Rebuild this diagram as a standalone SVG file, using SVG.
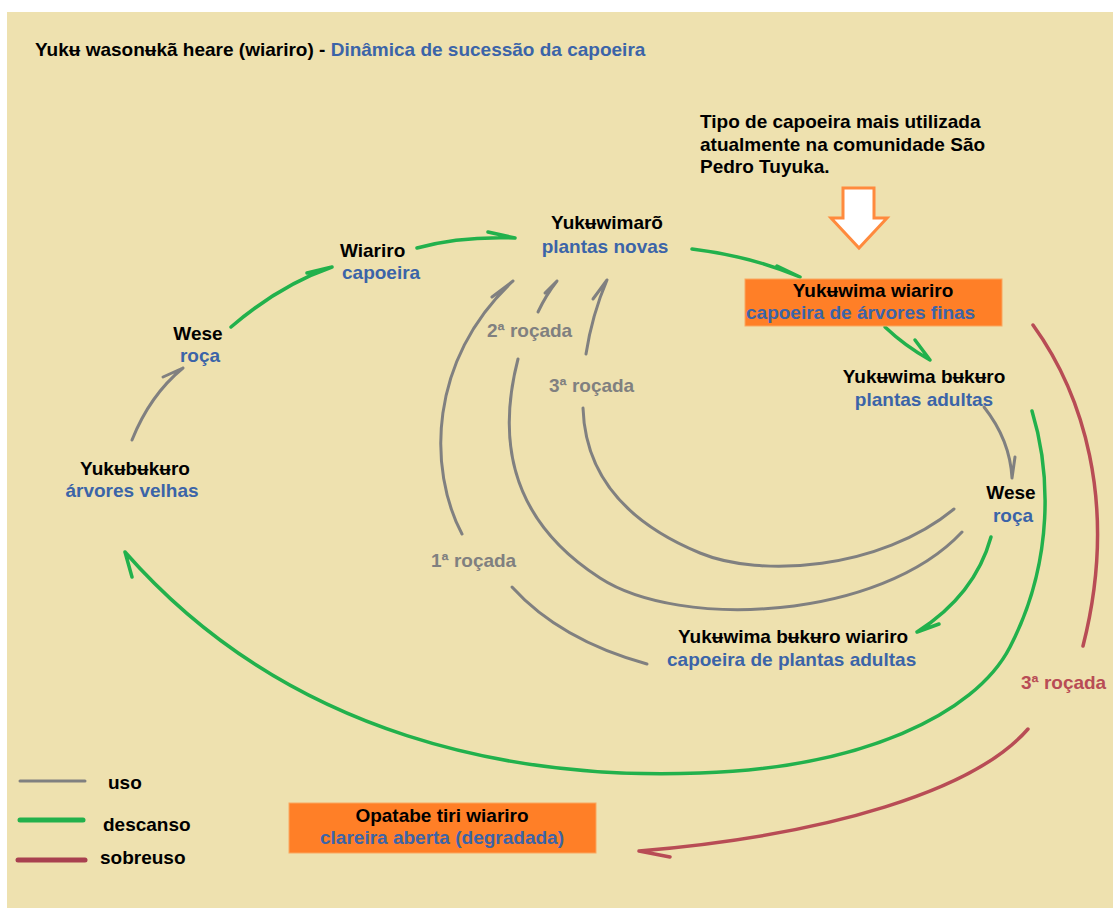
<svg xmlns="http://www.w3.org/2000/svg" width="1113" height="912" viewBox="0 0 1113 912">
<style>
text{font-family:"Liberation Sans",Arial,"DejaVu Sans",sans-serif;font-weight:bold;font-size:19px}
.k{fill:#000}
.b{fill:#3B64A8}
.g{fill:#808080}
.r{fill:#B84C55}
.m{text-anchor:middle}
.gr{fill:none;stroke:#808080;stroke-width:3;stroke-linecap:round}
.gn{fill:none;stroke:#22B14C;stroke-width:3.5;stroke-linecap:round}
.rd{fill:none;stroke:#B84C55;stroke-width:3.5;stroke-linecap:round}
.box{fill:#FF7F27;stroke:#F9A860;stroke-width:1}
</style>
<rect x="0" y="0" width="1113" height="912" fill="#FFFFFF"/>
<rect x="7" y="12" width="1106" height="896" fill="#EEE1AF"/>

<g id="title">
<text x="35" y="56"><tspan class="k">Yukʉ wasonʉkã heare (wiariro) - </tspan><tspan class="b">Dinâmica de sucessão da capoeira</tspan></text>
</g>

<g id="note">
<text class="k" x="700" y="128">Tipo de capoeira mais utilizada</text>
<text class="k" x="700" y="150.5">atualmente na comunidade São</text>
<text class="k" x="700" y="173">Pedro Tuyuka.</text>
<polygon points="843,188 874,188 874,218 887,218 859,248 831,218 843,218" fill="#FFFFFF" stroke="#FF8A3D" stroke-width="3" stroke-linejoin="miter"/>
</g>

<g id="connectors">
<!-- green: descanso -->
<path class="gn" d="M231,327 Q280,285 332,267 M307,273 L332,267"/>
<path class="gn" d="M417,248 Q460,236 515,238 M488,232 L515,238"/>
<path class="gn" d="M692,249 Q750,256 800,277 M777,266 L800,277"/>
<path class="gn" d="M885,327 Q905,346 930,360 M915,340 L930,360"/>
<path class="gn" d="M991,537 Q975,595 917,632 M939,624 L917,632"/>
<path class="gn" d="M1032,411 C1050,470 1055,560 1010,647 C975,715 860,768 700,773 C520,780 290,740 125,552 M132,577 L125,552"/>
<!-- red: sobreuso -->
<path class="rd" d="M1033,325 C1080,390 1120,500 1083,646"/>
<path class="rd" d="M1028,729 C975,790 830,835 639,851 M670,857 L639,851"/>
<!-- gray: uso -->
<path class="gr" d="M132,440 Q150,395 183,368 M163,377 L183,368"/>
<path class="gr" d="M984,407 Q1010,440 1012,478 M1015,457 L1012,478"/>
<path class="gr" d="M462,534 C428,470 428,360 513,281 M492,297 L513,281"/>
<path class="gr" d="M512,587 Q560,640 647,664"/>
<path class="gr" d="M538,312 Q546,295 557,281 M545,293 L557,281"/>
<path class="gr" d="M518,359 C497,440 510,520 600,578 C680,630 880,620 962,532"/>
<path class="gr" d="M586,354 Q592,315 607,280 M593,299 L607,280"/>
<path class="gr" d="M583,408 C585,470 620,520 700,553 C760,578 880,570 954,509"/>
</g>

<g id="labels">
<text class="g" x="431" y="567">1ª roçada</text>
<text class="g" x="487" y="337">2ª roçada</text>
<text class="g" x="549" y="392">3ª roçada</text>
<text class="r" x="1021" y="689">3ª roçada</text>
</g>

<g id="n-yukuwimaro">
<text class="k m" x="607" y="229">Yukʉwimarõ</text>
<text class="b m" x="605" y="253">plantas novas</text>
</g>
<g id="n-wiariro">
<text class="k" x="340" y="257">Wiariro</text>
<text class="b" x="342" y="279">capoeira</text>
</g>
<g id="n-wese-left">
<text class="k m" x="198" y="340">Wese</text>
<text class="b m" x="200" y="362">roça</text>
</g>
<g id="n-yukubukuro">
<text class="k m" x="135" y="475">Yukʉbʉkʉro</text>
<text class="b m" x="132" y="497">árvores velhas</text>
</g>
<g id="n-yukuwima-wiariro">
<rect class="box" x="745" y="279" width="257" height="47"/>
<text class="k m" x="873" y="297">Yukʉwima wiariro</text>
<text class="b" x="746" y="319">capoeira de árvores finas</text>
</g>
<g id="n-yukuwima-bukuro">
<text class="k m" x="924" y="383">Yukʉwima bʉkʉro</text>
<text class="b m" x="924" y="406">plantas adultas</text>
</g>
<g id="n-wese-right">
<text class="k m" x="1011" y="499">Wese</text>
<text class="b m" x="1013" y="522">roça</text>
</g>
<g id="n-yukuwima-bukuro-wiariro">
<text class="k" x="678" y="643">Yukʉwima bʉkʉro wiariro</text>
<text class="b" x="667" y="666">capoeira de plantas adultas</text>
</g>
<g id="n-opatabe">
<rect class="box" x="289" y="803" width="307" height="50"/>
<text class="k m" x="442" y="822">Opatabe tiri wiariro</text>
<text class="b m" x="442" y="844">clareira aberta (degradada)</text>
</g>

<g id="legend">
<line x1="20" y1="781" x2="85" y2="781" stroke="#808080" stroke-width="3" stroke-linecap="round"/>
<text class="k" x="108" y="789">uso</text>
<line x1="20" y1="820" x2="83" y2="820" stroke="#22B14C" stroke-width="5" stroke-linecap="round"/>
<text class="k" x="103" y="831">descanso</text>
<line x1="18" y1="860" x2="85" y2="860" stroke="#A8404F" stroke-width="5" stroke-linecap="round"/>
<text class="k" x="100" y="864">sobreuso</text>
</g>
</svg>
